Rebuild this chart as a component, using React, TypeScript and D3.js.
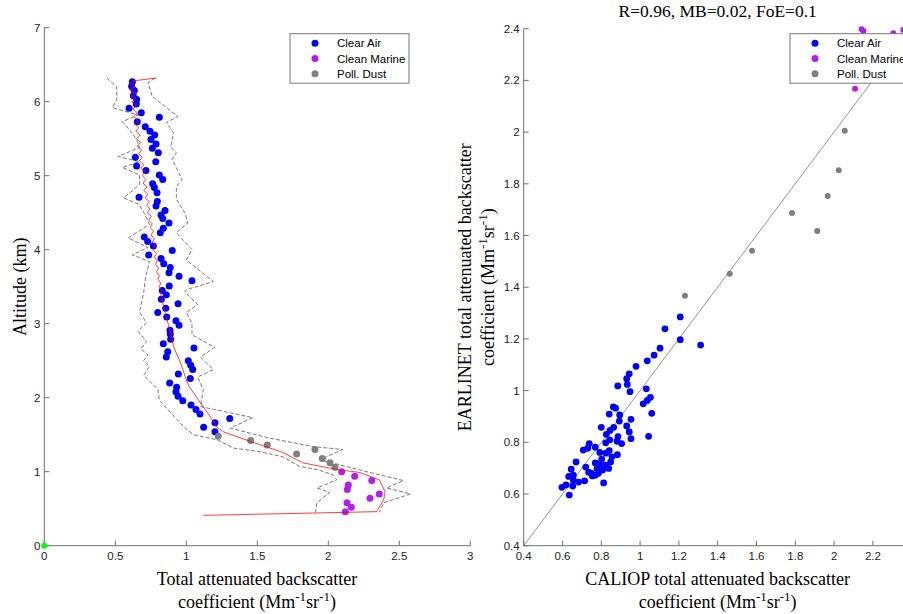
import React from "react";
import * as d3 from "d3";

// ---------- DATA ----------
// Left panel: CALIOP profile points [backscatter, altitude km]
const clearAirProfile: [number, number][] = [
  [0.62, 6.27], [0.615, 6.21], [0.634, 6.15], [0.627, 6.08], [0.65, 6.03], [0.648, 5.97],
  [0.597, 5.91], [0.683, 5.85], [0.81, 5.79], [0.655, 5.73], [0.711, 5.66], [0.744, 5.6],
  [0.777, 5.55], [0.751, 5.49], [0.787, 5.43], [0.761, 5.37], [0.803, 5.31], [0.641, 5.25],
  [0.785, 5.19], [0.65, 5.13], [0.716, 5.07], [0.81, 5.01], [0.834, 4.95], [0.763, 4.89],
  [0.775, 4.84], [0.794, 4.77], [0.667, 4.71], [0.796, 4.65], [0.787, 4.59], [0.85, 4.53],
  [0.822, 4.47], [0.834, 4.42], [0.878, 4.36], [0.838, 4.29], [0.817, 4.23], [0.704, 4.17],
  [0.728, 4.11], [0.768, 4.05], [0.901, 3.99], [0.735, 3.93], [0.822, 3.88], [0.841, 3.81],
  [0.887, 3.76], [0.878, 3.69], [0.949, 3.64], [1.04, 3.58], [0.88, 3.51], [0.831, 3.45],
  [0.859, 3.39], [0.824, 3.33], [0.942, 3.27], [0.855, 3.21], [0.799, 3.15], [0.862, 3.09],
  [0.927, 3.04], [0.949, 2.98], [0.885, 2.91], [0.887, 2.86], [0.89, 2.79], [0.838, 2.73],
  [1.054, 2.67], [0.869, 2.62], [0.859, 2.55], [1.014, 2.5], [1.031, 2.44], [1.045, 2.38],
  [0.944, 2.32], [1.028, 2.26], [0.883, 2.2], [0.932, 2.14], [0.927, 2.08], [0.942, 2.02],
  [0.975, 1.96], [1.033, 1.9], [1.068, 1.84], [1.096, 1.78], [1.306, 1.72], [1.202, 1.66],
  [1.122, 1.6], [1.202, 1.54],
];
const dustProfile: [number, number][] = [
  [1.225, 1.48], [1.453, 1.42], [1.57, 1.36], [1.906, 1.3], [1.777, 1.24], [1.958, 1.18],
  [2.012, 1.12], [2.047, 1.06],
];
const marineProfile: [number, number][] = [
  [2.094, 1.0], [2.186, 0.94], [2.306, 0.88], [2.141, 0.82], [2.134, 0.76], [2.359, 0.7],
  [2.294, 0.64], [2.132, 0.58], [2.162, 0.52], [2.12, 0.46],
];
// EARLINET mean profile [backscatter, altitude km]
const earlinetMean: [number, number][] = [
  [0.79, 6.32], [0.62, 6.28], [0.6, 6.24], [0.64, 6.2], [0.6, 6.16], [0.645, 6.12], [0.61, 6.08],
  [0.645, 6.04], [0.615, 6.0], [0.65, 5.95], [0.625, 5.9], [0.655, 5.85], [0.63, 5.8], [0.66, 5.75],
  [0.635, 5.7], [0.665, 5.65], [0.645, 5.6], [0.675, 5.55], [0.65, 5.5], [0.68, 5.45], [0.655, 5.4],
  [0.685, 5.35], [0.665, 5.3], [0.69, 5.25], [0.67, 5.2], [0.7, 5.15], [0.68, 5.1], [0.71, 5.05],
  [0.69, 5.0], [0.715, 4.95], [0.695, 4.9], [0.725, 4.85], [0.7, 4.8], [0.73, 4.75], [0.71, 4.7],
  [0.74, 4.65], [0.72, 4.6], [0.745, 4.55], [0.725, 4.5], [0.755, 4.45], [0.735, 4.4], [0.76, 4.35],
  [0.745, 4.3], [0.77, 4.25], [0.75, 4.2], [0.775, 4.15], [0.76, 4.1], [0.78, 4.05], [0.765, 4.0],
  [0.79, 3.95], [0.775, 3.9], [0.795, 3.85], [0.785, 3.8], [0.805, 3.75], [0.79, 3.7], [0.81, 3.65],
  [0.8, 3.6], [0.82, 3.55], [0.81, 3.5], [0.825, 3.45], [0.82, 3.4], [0.83, 3.32], [0.85, 3.15],
  [0.89, 2.88], [0.91, 2.69], [0.96, 2.47], [1.0, 2.24], [1.02, 2.15], [1.1, 1.93], [1.17, 1.74],
  [1.21, 1.61], [1.26, 1.54], [1.45, 1.41], [1.68, 1.26], [1.82, 1.12], [2.06, 1.03], [2.22, 0.99],
  [2.36, 0.89], [2.4, 0.73], [2.39, 0.62], [2.34, 0.46], [1.12, 0.41],
];
const earlinetLower: [number, number][] = [
  [0.44, 6.32], [0.51, 6.2], [0.51, 6.03], [0.48, 5.92], [0.66, 5.82], [0.55, 5.73], [0.6, 5.62],
  [0.65, 5.49], [0.67, 5.38], [0.52, 5.26], [0.67, 5.19], [0.55, 5.11], [0.67, 5.01], [0.67, 4.88],
  [0.56, 4.7], [0.67, 4.61], [0.71, 4.47], [0.74, 4.34], [0.59, 4.16], [0.73, 4.03], [0.62, 3.93],
  [0.74, 3.84], [0.71, 3.59], [0.7, 3.42], [0.67, 3.16], [0.72, 3.01], [0.66, 2.9], [0.72, 2.76],
  [0.68, 2.66], [0.73, 2.58], [0.7, 2.5], [0.74, 2.42], [0.7, 2.3], [0.76, 2.19], [0.8, 2.11],
  [0.81, 1.97], [0.86, 1.86], [0.98, 1.61], [1.05, 1.5], [1.22, 1.43], [1.33, 1.32], [1.52, 1.27],
  [1.68, 1.2], [1.8, 1.07], [1.92, 1.03], [2.03, 0.96], [2.06, 0.89], [1.92, 0.78], [2.01, 0.72],
  [1.92, 0.58], [1.91, 0.45],
];
const earlinetUpper: [number, number][] = [
  [0.78, 6.32], [0.73, 6.26], [0.76, 6.07], [0.94, 5.8], [0.86, 5.72], [0.91, 5.58], [0.89, 5.39],
  [0.93, 5.31], [0.9, 5.22], [0.97, 4.95], [0.93, 4.85], [0.93, 4.68], [0.99, 4.5], [1.01, 4.36],
  [0.93, 4.23], [1.04, 4.0], [1.0, 3.86], [1.19, 3.57], [1.0, 3.46], [0.99, 3.43], [1.08, 3.26],
  [1.0, 3.15], [1.04, 3.01], [1.04, 2.85], [1.2, 2.68], [1.1, 2.55], [1.19, 2.38], [1.08, 2.28],
  [1.12, 2.11], [1.1, 1.88], [1.47, 1.73], [1.31, 1.59], [1.57, 1.46], [1.89, 1.34], [2.1, 1.3],
  [1.94, 1.16], [2.13, 1.07], [2.27, 1.0], [2.53, 0.88], [2.41, 0.78], [2.58, 0.7], [2.39, 0.58],
  [2.36, 0.45],
];

// Right panel: [CALIOP, EARLINET]
const scatterClearAir: [number, number][] = [
  [1.207, 1.285], [1.128, 1.239], [1.207, 1.197], [1.312, 1.176], [1.103, 1.164], [1.072, 1.137],
  [1.037, 1.115], [0.979, 1.094], [0.944, 1.065], [0.931, 1.046], [0.934, 1.024], [0.885, 1.018],
  [1.032, 1.007], [0.948, 0.996], [1.053, 0.974], [1.037, 0.962], [1.016, 0.949], [0.862, 0.937],
  [0.874, 0.932], [0.841, 0.909], [0.895, 0.906], [1.06, 0.912], [0.953, 0.889], [0.893, 0.882],
  [0.8, 0.858], [0.864, 0.858], [0.931, 0.863], [0.944, 0.84], [0.845, 0.846], [0.826, 0.831],
  [1.044, 0.823], [0.953, 0.814], [0.886, 0.822], [0.843, 0.809], [0.823, 0.798], [0.881, 0.804],
  [0.905, 0.795], [0.738, 0.795], [0.73, 0.777], [0.707, 0.77], [0.769, 0.781], [0.792, 0.761],
  [0.841, 0.768], [0.824, 0.758], [0.883, 0.752], [0.855, 0.744], [0.802, 0.735], [0.67, 0.724],
  [0.769, 0.72], [0.793, 0.716], [0.72, 0.704], [0.821, 0.712], [0.838, 0.699], [0.645, 0.696],
  [0.778, 0.698], [0.807, 0.693], [0.747, 0.681], [0.785, 0.68], [0.632, 0.668], [0.656, 0.673],
  [0.754, 0.67], [0.769, 0.673], [0.656, 0.653], [0.714, 0.651], [0.683, 0.646], [0.812, 0.643],
  [0.618, 0.635], [0.597, 0.626], [0.653, 0.631], [0.635, 0.596], [0.735, 0.684], [0.848, 0.724],
];
const scatterMarine: [number, number][] = [
  [2.142, 2.398], [2.151, 2.391], [2.305, 2.382], [2.357, 2.395], [2.108, 2.168],
];
const scatterDust: [number, number][] = [
  [2.055, 2.005], [2.024, 1.852], [1.967, 1.753], [1.783, 1.687], [1.913, 1.617], [1.577, 1.541],
  [1.462, 1.452], [1.231, 1.367],
];

const leftXTicks = [0, 0.5, 1, 1.5, 2, 2.5, 3];
const leftYTicks = [0, 1, 2, 3, 4, 5, 6, 7];
const rightXTicks = [0.4, 0.6, 0.8, 1, 1.2, 1.4, 1.6, 1.8, 2, 2.2];
const rightYTicks = [0.4, 0.6, 0.8, 1, 1.2, 1.4, 1.6, 1.8, 2, 2.2, 2.4];
const legendLabels = ["Clear Air", "Clean Marine", "Poll. Dust"];
const titleText = "R=0.96, MB=0.02, FoE=0.1";

// ---------- STYLE ----------
const BLUE = "#0000ff";
const MAGENTA = "#b01ff0";
const GREY = "#7f7f7f";
const AXIS = "#707070";
const SANS = "Liberation Sans, Arial, sans-serif";
const SERIF = "Liberation Serif, Times New Roman, serif";
const legendColors = [BLUE, MAGENTA, GREY];

const W = 903;
const H = 614;

const lx = d3.scaleLinear().domain([0, 3]).range([44.3, 470.3]);
const ly = d3.scaleLinear().domain([0, 7]).range([545.7, 27.7]);
const rx = d3.scaleLinear().domain([0.4, 2.4]).range([523.7, 911.7]);
const ry = d3.scaleLinear().domain([0.4, 2.4]).range([545.7, 28.7]);

const fmt = (v: number) => String(+v.toFixed(1));

function Axes({ xs, ys, xt, yt }: any) {
  const [x0, x1] = xs.range();
  const [y0, y1] = ys.range();
  return (
    <g>
      <line x1={x0} x2={x1} y1={y0} y2={y0} stroke={AXIS} strokeWidth={1} />
      <line x1={x0} x2={x0} y1={y0} y2={y1} stroke={AXIS} strokeWidth={1} />
      {xt.map((t: number) => (
        <g key={"x" + t}>
          <line x1={xs(t)} x2={xs(t)} y1={y0} y2={y0 - 5} stroke={AXIS} />
          <text x={xs(t)} y={y0 + 14.5} textAnchor="middle" fontFamily={SANS} fontSize={11.5} fill="#222">
            {fmt(t)}
          </text>
        </g>
      ))}
      {yt.map((t: number) => (
        <g key={"y" + t}>
          <line x1={x0} x2={x0 + 5} y1={ys(t)} y2={ys(t)} stroke={AXIS} />
          <text x={x0 - 4} y={ys(t) + 4} textAnchor="end" fontFamily={SANS} fontSize={11.5} fill="#222">
            {fmt(t)}
          </text>
        </g>
      ))}
    </g>
  );
}

function Legend({ x, y }: { x: number; y: number }) {
  return (
    <g>
      <rect x={x} y={y} width={119} height={49.5} fill="#fff" stroke="#777" strokeWidth={1} />
      {legendLabels.map((l, i) => (
        <g key={l}>
          <circle cx={x + 25} cy={y + 9.5 + i * 15.3} r={3.5} fill={legendColors[i]} />
          <text x={x + 47} y={y + 13.5 + i * 15.3} fontFamily={SANS} fontSize={11.5} fill="#000">
            {l}
          </text>
        </g>
      ))}
    </g>
  );
}

function CoefLabel({ x, y }: { x: number; y: number }) {
  return (
    <text x={x} y={y} textAnchor="middle" fontFamily={SERIF} fontSize={18} fill="#000">
      coefficient (Mm
      <tspan dy={-7} fontSize={13}>-1</tspan>
      <tspan dy={7}>sr</tspan>
      <tspan dy={-7} fontSize={13}>-1</tspan>
      <tspan dy={7}>)</tspan>
    </text>
  );
}

export default function App() {
  const lineL = d3.line<[number, number]>().x((d) => lx(d[0])).y((d) => ly(d[1]));
  return (
    <svg
      width={W}
      height={H}
      style={{ position: "absolute", left: 0, top: 0, background: "#fff" }}
    >
      <rect x={0} y={0} width={W} height={H} fill="#fff" />

      {/* LEFT PANEL */}
      <path d={lineL(earlinetLower) || ""} fill="none" stroke="#555" strokeWidth={0.8} strokeDasharray="4,2" />
      <path d={lineL(earlinetUpper) || ""} fill="none" stroke="#555" strokeWidth={0.8} strokeDasharray="4,2" />
      <Axes xs={lx} ys={ly} xt={leftXTicks} yt={leftYTicks} />
      {clearAirProfile.map((d, i) => (
        <circle key={"ca" + i} cx={lx(d[0])} cy={ly(d[1])} r={3.5} fill={BLUE} />
      ))}
      {dustProfile.map((d, i) => (
        <circle key={"du" + i} cx={lx(d[0])} cy={ly(d[1])} r={3.5} fill={GREY} />
      ))}
      {marineProfile.map((d, i) => (
        <circle key={"ma" + i} cx={lx(d[0])} cy={ly(d[1])} r={3.5} fill={MAGENTA} />
      ))}
      <path d={lineL(earlinetMean) || ""} fill="none" stroke="#ff0000" strokeWidth={0.9} strokeOpacity={0.85} />
      <circle cx={lx(0)} cy={ly(0)} r={3} fill="#00ff00" />
      <Legend x={290} y={33.7} />
      <text
        transform={`translate(26,${(545.7 + 27.7) / 2}) rotate(-90)`}
        textAnchor="middle"
        fontFamily={SERIF}
        fontSize={18}
      >
        Altitude (km)
      </text>
      <text x={257} y={585} textAnchor="middle" fontFamily={SERIF} fontSize={18}>
        Total attenuated backscatter
      </text>
      <CoefLabel x={257} y={608} />

      {/* RIGHT PANEL */}
      <line x1={rx(0.4)} y1={ry(0.4)} x2={rx(2.4)} y2={ry(2.4)} stroke="#666" strokeWidth={0.7} />
      <Axes xs={rx} ys={ry} xt={rightXTicks} yt={rightYTicks} />
      {scatterClearAir.map((d, i) => (
        <circle key={"sca" + i} cx={rx(d[0])} cy={ry(d[1])} r={3.4} fill={BLUE} />
      ))}
      {scatterDust.map((d, i) => (
        <circle key={"sdu" + i} cx={rx(d[0])} cy={ry(d[1])} r={3} fill={GREY} />
      ))}
      {scatterMarine.map((d, i) => (
        <circle key={"sma" + i} cx={rx(d[0])} cy={ry(d[1])} r={3} fill={MAGENTA} />
      ))}
      <Legend x={790} y={33.7} />
      <text x={717.7} y={17} textAnchor="middle" fontFamily={SERIF} fontSize={17.5}>
        {titleText}
      </text>
      <text
        transform={`translate(471,${(545.7 + 28.7) / 2}) rotate(-90)`}
        textAnchor="middle"
        fontFamily={SERIF}
        fontSize={18}
      >
        EARLINET total attenuated backscatter
      </text>
      <g transform={`translate(494,${(545.7 + 28.7) / 2}) rotate(-90)`}>
        <CoefLabel x={0} y={0} />
      </g>
      <text x={717.7} y={585} textAnchor="middle" fontFamily={SERIF} fontSize={18}>
        CALIOP total attenuated backscatter
      </text>
      <CoefLabel x={717.7} y={608} />
    </svg>
  );
}
